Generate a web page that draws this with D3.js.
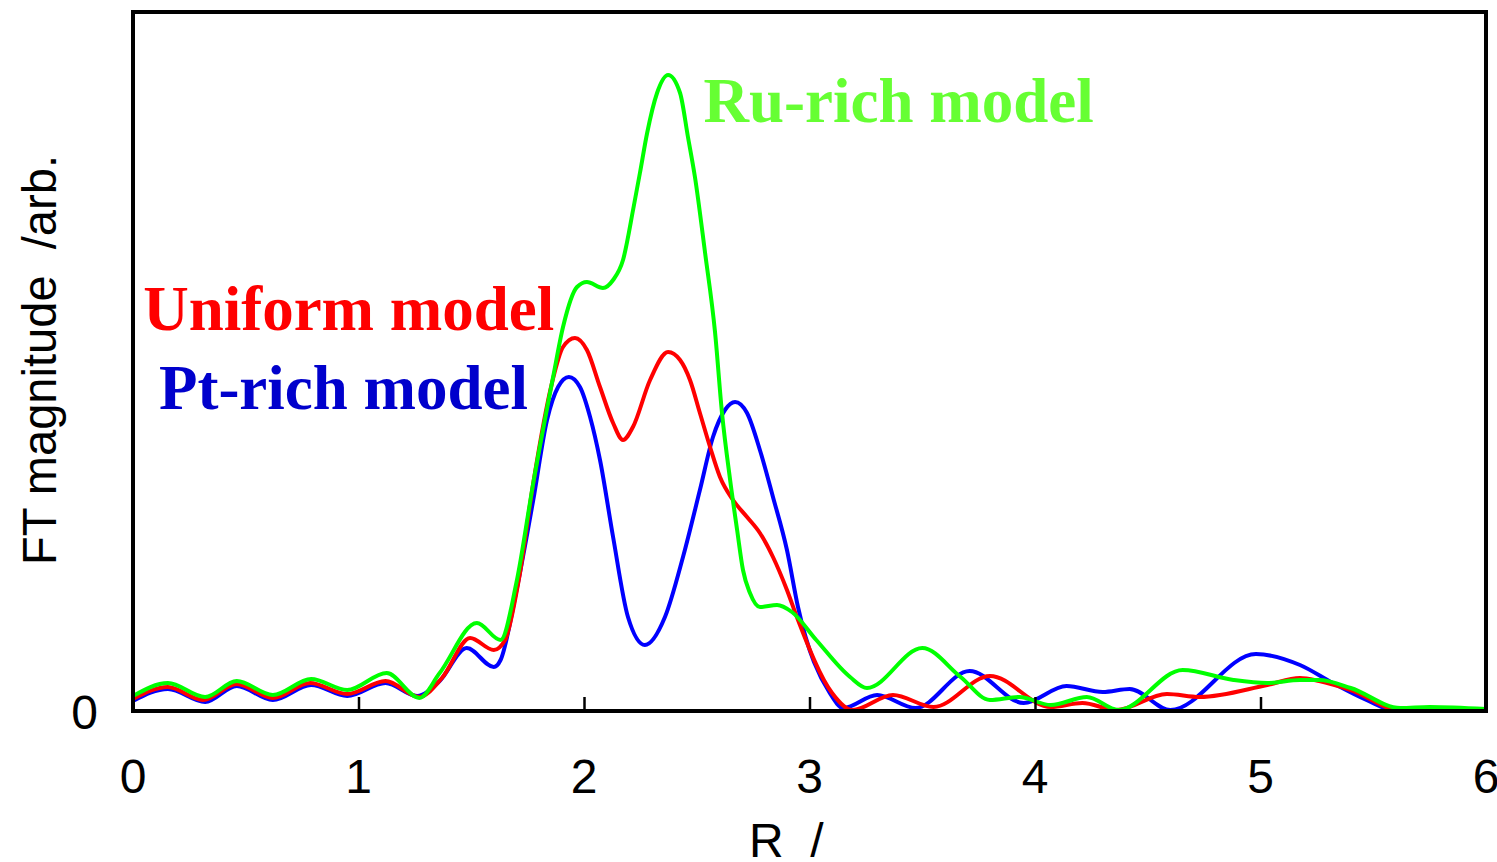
<!DOCTYPE html>
<meta charset="utf-8">
<style>
body { margin: 0; background: #fff; }
.tick-label { font-family: "Liberation Sans", Arial, sans-serif; font-size: 48px; white-space: pre; }
.note { font-family: "Liberation Serif", "Times New Roman", serif; font-weight: bold; font-size: 63px; }
.curve { fill: none; stroke-width: 4; stroke-linejoin: round; }
</style>
<body>
<script src="https://cdn.jsdelivr.net/npm/d3@7"></script>
<script>

var width = 1497,
    height = 862;

var margin = {left: 133, right: 11, top: 12, bottom: 151};

// R (x) and FT magnitude (arb.)
var ptR   = [0, 0.155, 0.32, 0.46, 0.62, 0.79, 0.95, 1.12, 1.26, 1.36, 1.48, 1.6, 1.63, 1.7, 1.775, 1.836, 1.885, 1.933, 1.982, 2.027, 2.071, 2.129, 2.195, 2.27, 2.359, 2.439, 2.514, 2.572, 2.625, 2.67, 2.723, 2.78, 2.838, 2.9, 2.949, 3.09, 3.15, 3.3, 3.47, 3.71, 3.95, 4.14, 4.3, 4.42, 4.6, 4.98, 5.175, 5.32, 5.47, 5.605, 5.765, 6.0];
var ptVal = [10, 22, 9, 25, 11, 26, 15, 28, 15, 30, 63, 44, 51, 120, 211, 291, 324, 334, 324, 294, 251, 174, 94, 66, 94, 154, 221, 274, 301, 309, 298, 261, 214, 161, 104, 18, 3, 16, 3, 40, 8, 25, 19, 22, 1, 57, 46, 28, 11, 0, 2, 0];

var uniR   = [0, 0.155, 0.31, 0.46, 0.62, 0.785, 0.95, 1.12, 1.27, 1.37, 1.495, 1.6, 1.65, 1.71, 1.775, 1.858, 1.907, 1.96, 2.013, 2.071, 2.129, 2.173, 2.217, 2.293, 2.373, 2.426, 2.47, 2.514, 2.559, 2.603, 2.661, 2.723, 2.78, 2.838, 2.9, 2.944, 3.1, 3.19, 3.37, 3.55, 3.8, 4.07, 4.21, 4.36, 4.585, 4.73, 5.03, 5.175, 5.26, 5.4, 5.62, 5.75, 6.0];
var uniVal = [12, 24, 11, 27, 13, 28, 17, 30, 14, 33, 73, 61, 71, 130, 228, 328, 364, 373, 361, 324, 288, 271, 284, 331, 359, 351, 331, 298, 264, 234, 211, 194, 178, 154, 121, 94, 18, 1, 16, 4, 35, 4, 8, 1, 17, 14, 26, 33, 30, 21, 1, 2, 1];

var ruR   = [0, 0.155, 0.32, 0.46, 0.62, 0.79, 0.95, 1.125, 1.27, 1.36, 1.525, 1.63, 1.7, 1.775, 1.863, 1.907, 1.969, 2.013, 2.084, 2.129, 2.173, 2.22, 2.248, 2.28, 2.324, 2.373, 2.426, 2.461, 2.492, 2.537, 2.581, 2.612, 2.648, 2.679, 2.705, 2.736, 2.78, 2.856, 2.922, 3.03, 3.18, 3.255, 3.5, 3.67, 3.8, 3.93, 4.07, 4.23, 4.37, 4.655, 4.88, 5.03, 5.175, 5.26, 5.4, 5.62, 5.75, 6.0];
var ruVal = [15, 28, 14, 30, 16, 32, 21, 38, 13, 38, 88, 71, 128, 228, 334, 384, 424, 429, 423, 431, 451, 504, 538, 578, 618, 636, 618, 574, 534, 458, 379, 298, 231, 181, 141, 118, 104, 106, 99, 71, 34, 23, 63, 34, 11, 14, 6, 14, 1, 41, 31, 28, 31, 31, 23, 3, 4, 2];

var series = [
  {name: "Pt-rich model", r: ptR, v: ptVal, color: "#0000ff"},
  {name: "Uniform model", r: uniR, v: uniVal, color: "#ff0000"},
  {name: "Ru-rich model", r: ruR, v: ruVal, color: "#00ff00"}
];

var xTicks = [0, 1, 2, 3, 4, 5, 6];

var notes = [
  {text: "Ru-rich model", x: 2.53, y: 589, color: "#66ff33"},
  {text: "Uniform model", x: 0.045, y: 381, color: "#ff0000"},
  {text: "Pt-rich model", x: 0.115, y: 302, color: "#0000cc"}
];

var x = d3.scaleLinear()
    .domain([0, 6])
    .range([margin.left, width - margin.right]);

var y = d3.scaleLinear()
    .domain([0, 699])
    .range([height - margin.bottom, margin.top]);

var svg = d3.select("body").append("svg")
    .attr("width", width)
    .attr("height", height);

var line = d3.line()
    .x(function(d) { return x(d[0]); })
    .y(function(d) { return y(d[1]); })
    .curve(d3.curveMonotoneX);

series.forEach(function(s) {
  svg.append("path")
      .attr("class", "curve")
      .attr("stroke", s.color)
      .attr("d", line(s.r.map(function(r, i) { return [r, s.v[i]]; })));
});

// frame
svg.append("rect")
    .attr("x", x(0))
    .attr("y", y(699))
    .attr("width", x(6) - x(0))
    .attr("height", y(0) - y(699))
    .attr("fill", "none")
    .attr("stroke", "#000")
    .attr("stroke-width", 4);

// inside ticks on the bottom axis
var xAxis = d3.axisBottom(x)
    .tickValues(xTicks)
    .tickSizeInner(-14)
    .tickSizeOuter(0)
    .tickFormat("");

var gx = svg.append("g")
    .attr("transform", "translate(0," + y(0) + ")")
    .call(xAxis);
gx.select(".domain").remove();
gx.selectAll(".tick line").attr("stroke", "#000").attr("stroke-width", 2.5);

svg.selectAll(".xlab")
    .data(xTicks)
  .enter().append("text")
    .attr("class", "tick-label")
    .attr("x", function(d) { return x(d); })
    .attr("y", 793)
    .attr("text-anchor", "middle")
    .text(function(d) { return d; });

svg.append("text")
    .attr("class", "tick-label")
    .attr("x", 98)
    .attr("y", y(0) + 18)
    .attr("text-anchor", "end")
    .text("0");

svg.append("text")
    .attr("class", "tick-label")
    .attr("x", 749)
    .attr("y", 857)
    .text("R  /");

svg.append("text")
    .attr("class", "tick-label")
    .attr("transform", "translate(56,565) rotate(-90)")
    .attr("textLength", 410)
    .attr("lengthAdjust", "spacingAndGlyphs")
    .text("FT magnitude  /arb.");

svg.selectAll(".note")
    .data(notes)
  .enter().append("text")
    .attr("class", "note")
    .attr("x", function(d) { return x(d.x); })
    .attr("y", function(d) { return y(d.y); })
    .attr("fill", function(d) { return d.color; })
    .text(function(d) { return d.text; });

</script>
